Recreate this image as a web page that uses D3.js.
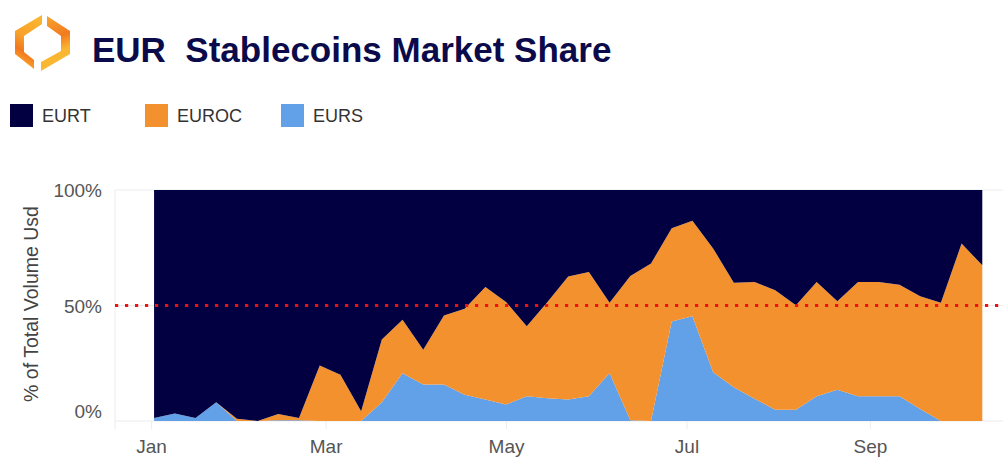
<!DOCTYPE html>
<html>
<head>
<meta charset="utf-8">
<script src="https://cdn.jsdelivr.net/npm/d3@7"></script>
<style>
  body { margin: 0; background: #fff; }
  svg { display: block; font-family: "Liberation Sans", Arial, sans-serif; }
</style>
</head>
<body>
<svg id="chart" width="1003" height="471"></svg>
<script>
// weekly share of total volume (%)
var weeks = ["2023-01-02","2023-01-09","2023-01-16","2023-01-23","2023-01-30",
  "2023-02-06","2023-02-13","2023-02-20","2023-02-27","2023-03-06","2023-03-13",
  "2023-03-20","2023-03-27","2023-04-03","2023-04-10","2023-04-17","2023-04-24",
  "2023-05-01","2023-05-08","2023-05-15","2023-05-22","2023-05-29","2023-06-05",
  "2023-06-12","2023-06-19","2023-06-26","2023-07-03","2023-07-10","2023-07-17",
  "2023-07-24","2023-07-31","2023-08-07","2023-08-14","2023-08-21","2023-08-28",
  "2023-09-04","2023-09-11","2023-09-18","2023-09-25","2023-10-02","2023-10-09"];
var eurs  = [1.3,3.2,1.3,8.1,0,0,0.3,0.3,0,0,0,8.1,20.7,15.8,15.8,11.4,9.3,7.1,10.7,9.8,
  9.3,10.7,20.8,0.3,0,43.1,45.4,21.1,14.6,9.6,4.9,4.9,10.7,13.5,10.7,10.7,10.7,5.2,0,0,0];
var euroc = [0,0,0,0,1.0,0,2.7,1.0,24,20,4.2,27.2,23.1,15.0,29.9,37.2,48.7,44.4,30.3,41.7,
  53.3,53.8,30.4,62.5,68.2,40.3,41.3,53.6,45.3,50.6,51.7,45.2,49.5,38.3,49.5,49.5,48.3,48.8,51.2,76.8,67.4];
var eurt  = [98.7,96.8,98.7,91.9,99.0,100,97.0,98.7,76,80,95.8,64.7,56.2,69.2,54.3,51.4,42,48.5,59,48.5,
  37.4,35.5,48.8,37.2,31.8,16.6,13.3,25.3,40.1,39.8,43.4,49.9,39.8,48.2,39.8,39.8,41,46,48.8,23.2,32.6];

var keys = ["EURS", "EUROC", "EURT"];
var legendOrder = ["EURT", "EUROC", "EURS"];
var colors = { EURT: "#020041", EUROC: "#f3912f", EURS: "#62a0e7" };
var yTicks = [0, 0.5, 1];
var refLine = 0.5;

drawChart();

function drawChart(){
    var parse = d3.timeParse("%Y-%m-%d");
    var rows = weeks.map(function(w, i){
        return { date: parse(w), EURS: eurs[i], EUROC: euroc[i], EURT: eurt[i] };
    });

    var svg = d3.select("#chart");

    // ---- logo ----
    var defs = svg.append("defs");
    var g1 = defs.append("linearGradient").attr("id", "logoL")
        .attr("x1", "0.6").attr("y1", "0").attr("x2", "0.3").attr("y2", "1");
    g1.append("stop").attr("offset", "0").attr("stop-color", "#fab52e");
    g1.append("stop").attr("offset", "0.45").attr("stop-color", "#f7a02a");
    g1.append("stop").attr("offset", "0.7").attr("stop-color", "#f2771f");
    g1.append("stop").attr("offset", "1").attr("stop-color", "#fbb32f");
    var g2 = defs.append("linearGradient").attr("id", "logoR")
        .attr("x1", "0.4").attr("y1", "0").attr("x2", "0.6").attr("y2", "1");
    g2.append("stop").attr("offset", "0").attr("stop-color", "#f7a22c");
    g2.append("stop").attr("offset", "0.4").attr("stop-color", "#f27a20");
    g2.append("stop").attr("offset", "0.65").attr("stop-color", "#f9b531");
    g2.append("stop").attr("offset", "1").attr("stop-color", "#fbbb33");
    svg.append("path").attr("fill", "url(#logoL)")
        .attr("d", "M42,15 L15,31 L15,54 L34,69 L34,60 L24,52 L24,36 L42,24 Z");
    svg.append("path").attr("fill", "url(#logoR)")
        .attr("d", "M47,16 L70,31 L70,54 L41,71 L41,62 L61,51 L61,36 L47,26 Z");

    // ---- title ----
    svg.append("text").attr("x", 92).attr("y", 62)
        .attr("font-size", 35).attr("font-weight", "bold").attr("fill", "#0b0b4b")
        .attr("xml:space", "preserve")
        .text("EUR  Stablecoins Market Share");

    // ---- legend ----
    var legendX = [10, 145, 281];
    var lg = svg.selectAll(".lg").data(legendOrder).enter().append("g")
        .attr("transform", function(d, i){ return "translate(" + legendX[i] + ",104)"; });
    lg.append("rect").attr("width", 23).attr("height", 23).attr("fill", function(d){ return colors[d]; });
    lg.append("text").attr("x", 32).attr("y", 18).attr("font-size", 18).attr("fill", "#333")
        .text(function(d){ return d; });

    // ---- scales ----
    var pLeft = 115, pRight = 1003, pTop = 190, pBottom = 421;
    var x = d3.scaleTime()
        .domain([new Date(2022, 11, 19, 19), new Date(2023, 9, 16)])
        .range([pLeft, pRight]);
    var y = d3.scaleLinear().domain([0, 1]).range([pBottom, pTop]);

    // grid
    svg.append("g").selectAll("line").data(yTicks).enter().append("line")
        .attr("x1", pLeft).attr("x2", pRight)
        .attr("y1", function(d){ return y(d); }).attr("y2", function(d){ return y(d); })
        .attr("stroke", "#ececec");
    svg.append("line").attr("x1", pLeft).attr("x2", pLeft).attr("y1", pTop).attr("y2", pBottom + 8)
        .attr("stroke", "#ececec");

    // ---- stacked areas ----
    var stack = d3.stack().keys(keys).offset(d3.stackOffsetExpand);
    var series = stack(rows);
    var area = d3.area()
        .x(function(d){ return x(d.data.date); })
        .y0(function(d){ return y(d[0]); })
        .y1(function(d){ return y(d[1]); });
    svg.append("g").selectAll("path").data(series).enter().append("path")
        .attr("d", area).attr("fill", function(d){ return colors[d.key]; });

    // ---- 50% reference ----
    svg.append("line").attr("x1", pLeft).attr("x2", pRight)
        .attr("y1", y(refLine)).attr("y2", y(refLine))
        .attr("stroke", "#ee1111").attr("stroke-width", 3.2).attr("stroke-dasharray", "3.2,6.8");

    // ---- axes ----
    var xAxis = svg.append("g").attr("transform", "translate(0," + pBottom + ")")
        .call(d3.axisBottom(x)
            .tickValues(d3.timeMonth.every(2).range(new Date(2023, 0, 1), new Date(2023, 9, 2)))
            .tickFormat(d3.timeFormat("%b")).tickSize(8).tickPadding(11));
    xAxis.select(".domain").remove();
    xAxis.selectAll("line").attr("stroke", "#ececec");
    xAxis.selectAll("text").attr("font-size", 19).attr("fill", "#555")
        .attr("font-family", "Liberation Sans, Arial, sans-serif");

    var yAxis = svg.append("g").attr("transform", "translate(" + (pLeft - 13) + ",0)")
        .call(d3.axisLeft(y).tickValues(yTicks).tickFormat(d3.format(".0%")).tickSize(0).tickPadding(0));
    yAxis.select(".domain").remove();
    yAxis.selectAll("text").attr("font-size", 19).attr("fill", "#555")
        .attr("font-family", "Liberation Sans, Arial, sans-serif")
        .attr("dy", function(d){ return d === 0 ? "-0.2em" : "0.35em"; });

    svg.append("text").attr("transform", "translate(38,304) rotate(-90)")
        .attr("text-anchor", "middle").attr("font-size", 19.5).attr("fill", "#444")
        .text("% of Total Volume Usd");
}
</script>
</body>
</html>
